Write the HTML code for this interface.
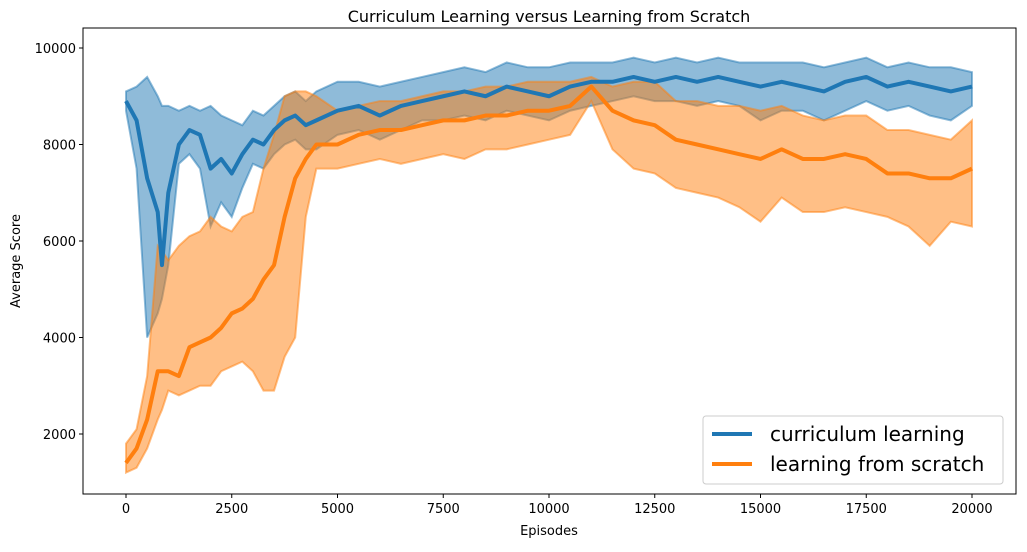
<!DOCTYPE html>
<html><head><meta charset="utf-8"><style>
body{margin:0;background:#fff;}
svg text{font-family:"DejaVu Sans","Liberation Sans",sans-serif;fill:#000;}
</style></head><body>
<svg id="chart" width="1027" height="547" xmlns="http://www.w3.org/2000/svg">
<rect width="1027" height="547" fill="#fff"/>
<g id="bands"></g><g id="lines"></g>
<rect x="83" y="28" width="933" height="466" fill="none" stroke="#000" stroke-width="1"/>
<g id="xticks"></g><g id="yticks"></g>
<text x="549" y="22" text-anchor="middle" font-size="16">Curriculum Learning versus Learning from Scratch</text>
<text x="549" y="535" text-anchor="middle" font-size="13">Episodes</text>
<text x="20" y="261" text-anchor="middle" font-size="13" transform="rotate(-90 20 261)">Average Score</text>
<g>
<rect x="703" y="416" width="300" height="68" rx="3" fill="#fff" fill-opacity="0.8" stroke="#ccc"/>
<g><line x1="712" y1="434" x2="752" y2="434" stroke="#1f77b4" stroke-width="4"/><text x="770" y="441" font-size="20">curriculum learning</text></g>
<g><line x1="712" y1="464" x2="752" y2="464" stroke="#ff7f0e" stroke-width="4"/><text x="770" y="471" font-size="20">learning from scratch</text></g>
</g>
</svg>
<script>
const episodes=[0,250,500,750,850,1000,1250,1500,1750,2000,2250,2500,2750,3000,3250,3500,3750,4000,4250,4500,5000,5500,6000,6500,7000,7500,8000,8500,9000,9500,10000,10500,11000,11500,12000,12500,13000,13500,14000,14500,15000,15500,16000,16500,17000,17500,18000,18500,19000,19500,20000];
const blueMean=[8900,8500,7300,6600,5500,7000,8000,8300,8200,7500,7700,7400,7800,8100,8000,8300,8500,8600,8400,8500,8700,8800,8600,8800,8900,9000,9100,9000,9200,9100,9000,9200,9300,9300,9400,9300,9400,9300,9400,9300,9200,9300,9200,9100,9300,9400,9200,9300,9200,9100,9200];
const blueLo=[8700,7500,4000,4500,4800,5500,7600,7800,7500,6300,6800,6500,7100,7600,7500,7800,8000,8100,7900,7900,8200,8300,8100,8300,8500,8500,8600,8500,8700,8600,8500,8700,8800,8900,9000,8900,8900,8800,8900,8800,8500,8700,8700,8500,8700,8900,8700,8800,8600,8500,8800];
const blueHi=[9100,9200,9400,9000,8800,8800,8700,8800,8700,8800,8600,8500,8400,8700,8600,8800,9000,9100,8900,9100,9300,9300,9200,9300,9400,9500,9600,9500,9700,9600,9600,9700,9700,9700,9800,9700,9800,9700,9800,9700,9700,9700,9700,9600,9700,9800,9600,9700,9600,9600,9500];
const orangeMean=[1400,1700,2300,3300,3300,3300,3200,3800,3900,4000,4200,4500,4600,4800,5200,5500,6500,7300,7700,8000,8000,8200,8300,8300,8400,8500,8500,8600,8600,8700,8700,8800,9200,8700,8500,8400,8100,8000,7900,7800,7700,7900,7700,7700,7800,7700,7400,7400,7300,7300,7500];
const orangeLo=[1200,1300,1700,2300,2500,2900,2800,2900,3000,3000,3300,3400,3500,3300,2900,2900,3600,4000,6500,7500,7500,7600,7700,7600,7700,7800,7700,7900,7900,8000,8100,8200,8900,7900,7500,7400,7100,7000,6900,6700,6400,6900,6600,6600,6700,6600,6500,6300,5900,6400,6300];
const orangeHi=[1800,2100,3200,5900,5800,5600,5900,6100,6200,6500,6300,6200,6500,6600,7500,8200,9000,9100,9100,9000,8700,8800,8900,8900,9000,9100,9100,9200,9200,9300,9300,9300,9400,9200,9300,9300,8900,8900,8800,8800,8700,8800,8600,8500,8600,8600,8300,8300,8200,8100,8500];
const xTicks=[0,2500,5000,7500,10000,12500,15000,17500,20000];
const yTicks=[2000,4000,6000,8000,10000];
const X=v=>126+v*(972-126)/20000;
const Y=v=>434-(v-2000)*(434-48)/8000;
const NS='http://www.w3.org/2000/svg';
function mk(tag,attrs,parent){const e=document.createElementNS(NS,tag);for(const k in attrs)e.setAttribute(k,attrs[k]);parent.appendChild(e);return e;}
const bands=document.getElementById('bands'),lines=document.getElementById('lines');
function band(lo,hi,col,name){
  let d='M'+episodes.map((e,i)=>X(e)+','+Y(hi[i])).join('L');
  d+='L'+episodes.map((e,i)=>[X(e),Y(lo[i])]).reverse().map(p=>p.join(',')).join('L')+'Z';
  const p=mk('path',{d:d,fill:col,'fill-opacity':0.5,stroke:col,'stroke-opacity':0.5,'stroke-width':2},bands);
  
  
}
function line(m,col,name){
  const p=mk('polyline',{points:episodes.map((e,i)=>X(e)+','+Y(m[i])).join(' '),fill:'none',stroke:col,'stroke-width':4,'stroke-linejoin':'round'},lines);
  
  
}
band(blueLo,blueHi,'#1f77b4','curriculum-band');
band(orangeLo,orangeHi,'#ff7f0e','scratch-band');
line(blueMean,'#1f77b4','curriculum-line');
line(orangeMean,'#ff7f0e','scratch-line');
const xt=document.getElementById('xticks'),yt=document.getElementById('yticks');
xTicks.forEach(v=>{
  const l=mk('line',{x1:X(v),x2:X(v),y1:494,y2:498,stroke:'#000'},xt);
  
  
  const t=mk('text',{x:X(v),y:513,'text-anchor':'middle','font-size':13},xt);t.textContent=v;
  
  
});
yTicks.forEach(v=>{
  const l=mk('line',{x1:79,x2:83,y1:Y(v),y2:Y(v),stroke:'#000'},yt);
  
  
  const t=mk('text',{x:76,y:Y(v)+5,'text-anchor':'end','font-size':13},yt);t.textContent=v;
  
  
});
</script>
</body></html>
